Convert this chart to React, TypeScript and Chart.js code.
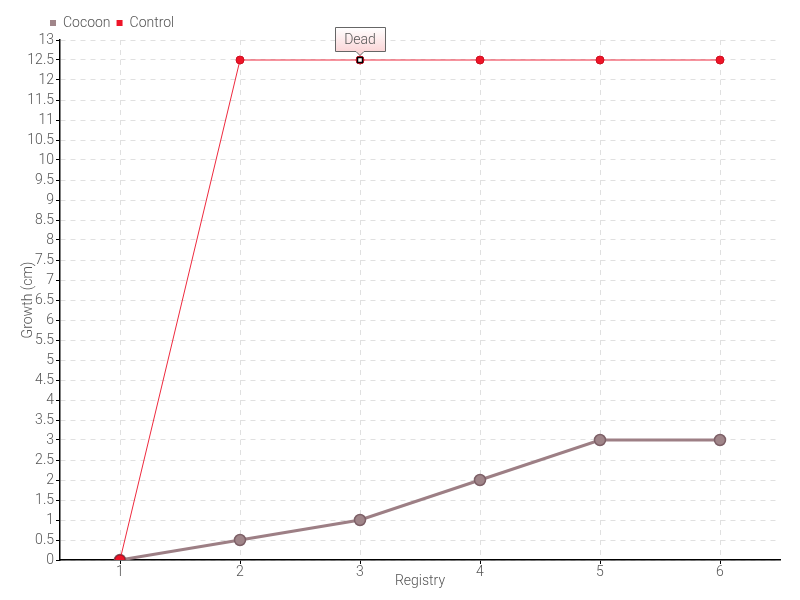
import React, { useEffect, useRef } from "react";
import { Chart, registerables } from "chart.js";

Chart.register(...registerables);

const registry = ["1", "2", "3", "4", "5", "6"];
const cocoon = [0, 0.5, 1, 2, 3, 3];
const control = [0, 12.5, 12.5, 12.5, 12.5, 12.5];
const annotationIndex = 2;
const annotationText = "Dead";

const FONT = "Roboto, 'Liberation Sans Narrow', sans-serif";

const annotationPlugin = {
  id: "deadNote",
  afterDatasetsDraw(chart: any) {
    const meta = chart.getDatasetMeta(1);
    const pt = meta.data[annotationIndex];
    if (!pt) return;
    const ctx = chart.ctx;
    const x = pt.x;
    const y = pt.y;
    ctx.save();
    ctx.fillStyle = "#e8102a";
    ctx.beginPath();
    ctx.arc(x, y, 4, 0, Math.PI * 2);
    ctx.fill();
    ctx.fillStyle = "#ffffff";
    ctx.strokeStyle = "#000000";
    ctx.lineWidth = 1.5;
    ctx.fillRect(x - 2.5, y - 2.5, 5, 5);
    ctx.strokeRect(x - 2.5, y - 2.5, 5, 5);
    const w = 50;
    const h = 24;
    const bx = Math.round(x - w / 2) + 0.5;
    const by = Math.round(y - 33) + 0.5;
    const grad = ctx.createLinearGradient(0, by, 0, by + h);
    grad.addColorStop(0, "#ffffff");
    grad.addColorStop(1, "#fbd6d8");
    ctx.fillStyle = grad;
    ctx.strokeStyle = "#666666";
    ctx.lineWidth = 1;
    ctx.beginPath();
    ctx.moveTo(bx, by);
    ctx.lineTo(bx + w, by);
    ctx.lineTo(bx + w, by + h);
    ctx.lineTo(x + 4, by + h);
    ctx.lineTo(x, by + h + 4);
    ctx.lineTo(x - 4, by + h);
    ctx.lineTo(bx, by + h);
    ctx.closePath();
    ctx.fill();
    ctx.stroke();
    ctx.fillStyle = "#555555";
    ctx.font = "300 14px " + FONT;
    ctx.textAlign = "center";
    ctx.textBaseline = "middle";
    ctx.fillText(annotationText, x, by + h / 2 + 0.5);
    ctx.restore();
  },
};

const legendShift = {
  id: "legendShift",
  afterLayout(chart: any) {
    if (chart.legend) chart.legend.left += 24;
  },
};

const f = { family: FONT, size: 14, weight: "300" as any };

export default function App() {
  const ref = useRef<HTMLCanvasElement>(null);
  useEffect(() => {
    document.body.style.margin = "0";
    const chart = new Chart(ref.current!, {
      type: "line",
      data: {
        labels: registry,
        datasets: [
          {
            label: "Cocoon",
            data: cocoon,
            order: 1,
            borderColor: "#9d7f85",
            backgroundColor: "#9d7f85",
            borderWidth: 3,
            pointRadius: 5.5,
            pointBackgroundColor: "#a08589",
            pointBorderColor: "#7d6067",
            pointBorderWidth: 1.5,
            tension: 0,
          },
          {
            label: "Control",
            data: control,
            order: 0,
            borderColor: "#ee2a3e",
            backgroundColor: "#e8102a",
            borderWidth: 1,
            pointRadius: [5, 4, 4, 4, 4, 4],
            pointBackgroundColor: "#ee1428",
            pointBorderColor: ["#a01020", "#d01020", "#d01020", "#d01020", "#d01020", "#d01020"],
            pointBorderWidth: 1,
            tension: 0,
          },
        ],
      },
      options: {
        responsive: false,
        animation: false,
        layout: { padding: { left: 20, right: 20, top: 10, bottom: 10 } },
        plugins: {
          legend: {
            position: "top",
            align: "start",
            labels: {
              boxWidth: 6,
              boxHeight: 6,
              padding: 6,
              color: "#555555",
              font: f,
              generateLabels: (chart: any) =>
                chart.data.datasets.map((d: any, i: number) => ({
                  text: d.label,
                  fillStyle: i === 0 ? "#a08589" : "#ee1428",
                  strokeStyle: i === 0 ? "#a08589" : "#ee1428",
                  lineWidth: 0,
                  datasetIndex: i,
                  fontColor: "#555555",
                })),
            },
          },
          tooltip: { enabled: false },
        },
        scales: {
          x: {
            offset: true,
            grid: {
              offset: false,
              color: "#e0e0e0",
              tickColor: "#000000",
              tickLength: 4,
            } as any,
            border: { display: true, color: "#000000", width: 1.5, dash: [5, 5] as any },
            ticks: { color: "#555555", font: f, padding: 0 },
            title: {
              display: true,
              text: "Registry",
              color: "#555555",
              font: f,
              padding: { top: 0, bottom: 0 },
            },
            afterFit: (s: any) => {
              s.height = 30;
            },
          },
          y: {
            min: 0,
            max: 13,
            ticks: {
              stepSize: 0.5,
              color: "#555555",
              font: f,
              padding: 2,
              autoSkip: false,
              callback: (v: any) => String(Number(v)),
            },
            grid: {
              color: "#e0e0e0",
              tickColor: "#000000",
              tickLength: 4,
            },
            border: { display: true, color: "#000000", width: 1.5, dash: [5, 5] as any },
            title: {
              display: true,
              text: "Growth (cm)",
              color: "#555555",
              font: f,
              padding: 0,
            },
            afterFit: (s: any) => {
              s.width = 40;
            },
          },
        },
      },
      plugins: [annotationPlugin, legendShift],
    } as any);
    return () => chart.destroy();
  }, []);
  return (
    <div style={{ width: 800, height: 600 }}>
      <canvas ref={ref} width={800} height={600} />
    </div>
  );
}
